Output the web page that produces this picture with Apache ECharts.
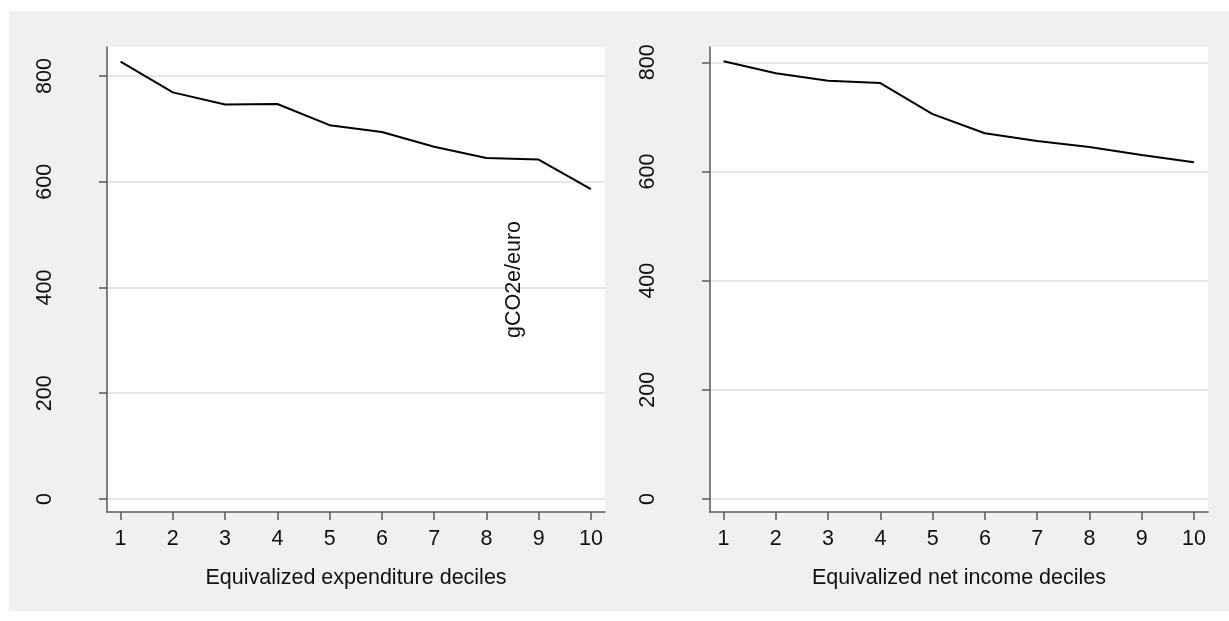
<!DOCTYPE html>
<html>
<head>
<meta charset="utf-8">
<script src="https://cdn.jsdelivr.net/npm/echarts@6/dist/echarts.min.js"></script>
<style>
  html, body { margin: 0; padding: 0; background: #ffffff; }
  #wrap { position: relative; width: 1229px; height: 621px; }
  #bg { position: absolute; left: 9px; top: 11px; width: 1220px; height: 600px; background: #f0f0f0; }
  #chart { position: absolute; left: 0; top: 0; width: 1229px; height: 621px; }
</style>
</head>
<body>
<div id="wrap"><div id="bg"></div><div id="chart"></div></div>
<script>
const deciles = [1, 2, 3, 4, 5, 6, 7, 8, 9, 10];
const expenditureValues = [827, 769, 746, 747, 707, 694, 666, 645, 642, 586];
const incomeValues = [802, 780, 766, 762, 705, 670, 656, 645, 630, 617];
const yTicks = [0, 200, 400, 600, 800];
const xTitles = ['Equivalized expenditure deciles', 'Equivalized net income deciles'];
const yTitle = 'gCO2e/euro';

const FONT = 'Liberation Sans, Arial, sans-serif';
const FS = 21.5;
const axisColor = '#5a5a5a';
const gridColor = '#e6e6e6';

function xAxis(i, title) {
  return {
    type: 'value', gridIndex: i, min: 0.74, max: 10.27,
    name: title, nameLocation: 'middle', nameGap: 55,
    nameTextStyle: { fontFamily: FONT, fontSize: FS, color: '#111' },
    axisLine: { show: true, onZero: false, lineStyle: { color: axisColor, width: 1.5 } },
    axisTick: { show: true, length: 8, customValues: deciles, lineStyle: { color: axisColor, width: 1.5 } },
    axisLabel: { customValues: deciles, margin: 16, fontFamily: FONT, fontSize: FS, color: '#111' },
    splitLine: { show: false }
  };
}
function yAxis(i, min, max, name) {
  return {
    type: 'value', gridIndex: i, min: min, max: max,
    name: name || '', nameLocation: 'middle', nameGap: -418, nameRotate: 90,
    nameTextStyle: { fontFamily: FONT, fontSize: FS, color: '#111' },
    axisLine: { show: true, onZero: false, lineStyle: { color: axisColor, width: 1.5 } },
    axisTick: { show: true, length: 8, customValues: yTicks, lineStyle: { color: axisColor, width: 1.5 } },
    axisLabel: { customValues: yTicks, rotate: 90, margin: 51, fontFamily: FONT, fontSize: FS, color: '#111' },
    splitLine: { show: true, lineStyle: { color: gridColor, width: 2 } }
  };
}

const chart = echarts.init(document.getElementById('chart'), null, { renderer: 'canvas' });
chart.setOption({
  backgroundColor: 'transparent',
  animation: false,
  grid: [
    { left: 107, top: 47, width: 498, height: 465, show: true, backgroundColor: '#ffffff', borderWidth: 0 },
    { left: 710, top: 47, width: 498, height: 465, show: true, backgroundColor: '#ffffff', borderWidth: 0 }
  ],
  xAxis: [xAxis(0, xTitles[0]), xAxis(1, xTitles[1])],
  yAxis: [yAxis(0, -24.6, 854.8, yTitle), yAxis(1, -23.8, 828)],
  series: [
    { type: 'line', xAxisIndex: 0, yAxisIndex: 0, data: deciles.map((d, k) => [d, expenditureValues[k]]),
      showSymbol: false, lineStyle: { color: '#000', width: 2 } },
    { type: 'line', xAxisIndex: 1, yAxisIndex: 1, data: deciles.map((d, k) => [d, incomeValues[k]]),
      showSymbol: false, lineStyle: { color: '#000', width: 2 } }
  ]
});
</script>
</body>
</html>
